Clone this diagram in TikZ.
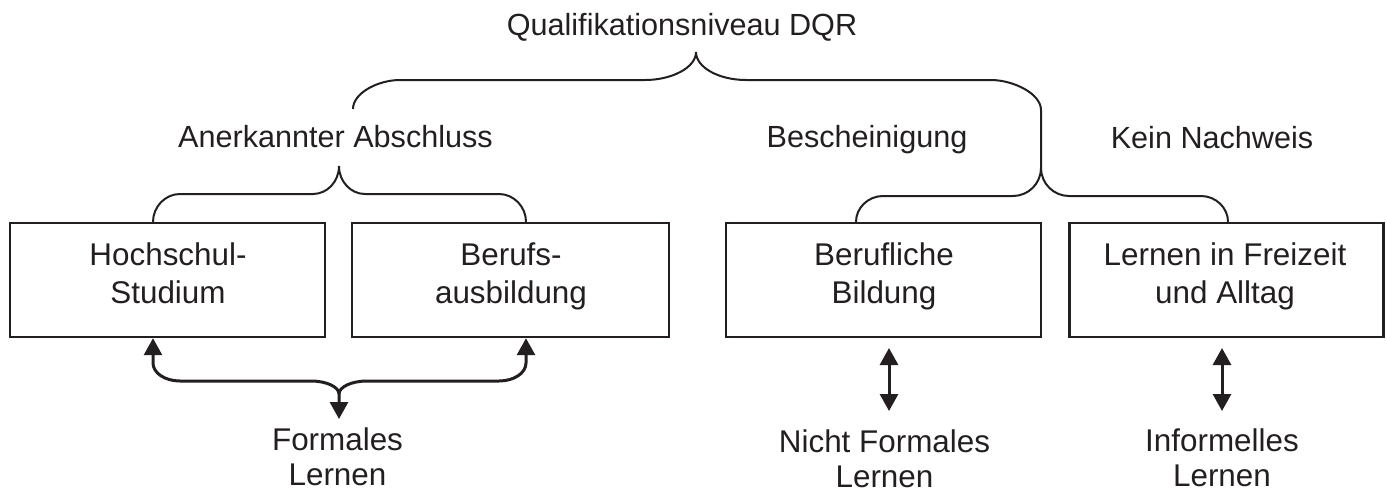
\documentclass[tikz,border=0pt]{standalone}
\usepackage{fontspec}
\setmainfont{Liberation Sans}
\usetikzlibrary{arrows.meta}
\definecolor{ink}{RGB}{35,31,32}
\begin{document}
\begin{tikzpicture}[x=1pt,y=-1pt,
  box/.style={draw=ink, line width=2.4pt, minimum height=114pt, inner sep=0pt},
  toptxt/.style={text=ink, inner sep=0pt, anchor=base, font=\fontsize{30.6}{36}\selectfont},
  boxtxt/.style={text=ink, inner sep=0pt, anchor=base, align=center, font=\fontsize{31.4}{38}\selectfont},
  bottxt/.style={text=ink, inner sep=0pt, anchor=base, align=center, font=\fontsize{31.4}{35}\selectfont},
  brace/.style={draw=ink, line width=2pt},
  arr/.style={draw=ink, line width=3pt, {Triangle[length=17pt,width=18pt]}-{Triangle[length=17pt,width=18pt]}},
  arrs/.style={draw=ink, line width=3pt, {Triangle[length=17pt,width=18pt]}-}
]
\useasboundingbox (0,0) rectangle (1387,491);

% top labels
\node[toptxt] (title) at (682,35) {Qualifikationsniveau DQR};
\node[toptxt] (lab1) at (335.5,147) {Anerkannter Abschluss};
\node[toptxt] (lab2) at (867,147) {Bescheinigung};
\node[toptxt] (lab3) at (1212,148) {Kein Nachweis};

% boxes
\node[box, minimum width=315pt] (b1) at (167.5,280) {};
\node[box, minimum width=317pt] (b2) at (510.5,280) {};
\node[box, minimum width=315pt] (b3) at (883.5,280) {};
\node[box, minimum width=314pt] (b4) at (1226.5,280) {};

% multi-line text: base anchor is the baseline of the last line
\node[boxtxt] (t1) at (168,303) {Hochschul-\\Studium};
\node[boxtxt] (t2) at (511,303) {Berufs-\\ausbildung};
\node[boxtxt] (t3) at (884,303) {Berufliche\\Bildung};
\node[boxtxt] (t4) at (1225,303) {Lernen in Freizeit\\und Alltag};

% bottom labels
\node[bottxt] (f1) at (337.5,485) {Formales\\Lernen};
\node[bottxt] (f2) at (884.5,487) {Nicht Formales\\Lernen};
\node[bottxt] (f3) at (1222,486) {Informelles\\Lernen};

% brace coordinates
\coordinate (tipA) at (339,166);
\coordinate (tipB) at (1041,168);
\coordinate (tipC) at (696,52);
\coordinate (cusp) at (339,394);

% small brace over b1/b2
\draw[brace] (153,0 |- b1.north) .. controls (153,207) and (165,194) .. (180,194) -- (313,194)
  .. controls (327.3,194) and (339,181.5) .. (tipA);
\draw[brace] (526,0 |- b2.north) .. controls (526,207) and (514,194) .. (499,194) -- (365,194)
  .. controls (350.7,194) and (339,181.5) .. (tipA);

% small brace over b3/b4
\draw[brace] (856,0 |- b3.north) .. controls (856,208) and (868,196) .. (883,196) -- (1013,196)
  .. controls (1028.4,196) and (1041,183.4) .. (tipB);
\draw[brace] (1228,0 |- b4.north) .. controls (1228,208) and (1216,196) .. (1201,196) -- (1069,196)
  .. controls (1053.6,196) and (1041,183.4) .. (tipB);

% big brace
\draw[brace] (353,109) .. controls (353,93) and (378,80) .. (400,80) -- (645,80)
  .. controls (672,80) and (696,67.5) .. (tipC);
\draw[brace] (tipB) -- (1041,110) .. controls (1041,93.5) and (1013,80) .. (991,80) -- (746,80)
  .. controls (719,80) and (696,67.5) .. (tipC);

% arrow brace below b1/b2
\coordinate (fa) at (339,419);
\draw[arr] (153,0 |- b1.south) -- (153,363) .. controls (153,373) and (165,381) .. (180,381) -- (311,381)
  .. controls (326.4,381) and (339,386.9) .. (cusp) -- (fa);
\draw[arrs] (526,0 |- b2.south) -- (526,363) .. controls (526,373) and (514,381) .. (499,381) -- (367,381)
  .. controls (351.6,381) and (339,386.9) .. (cusp);

% double arrows
\coordinate (a3t) at (889,348);
\coordinate (a3b) at (889,411);
\coordinate (a4t) at (1222,348);
\coordinate (a4b) at (1222,411);
\draw[arr] (a3t) -- (a3b);
\draw[arr] (a4t) -- (a4b);
\end{tikzpicture}
\end{document}
